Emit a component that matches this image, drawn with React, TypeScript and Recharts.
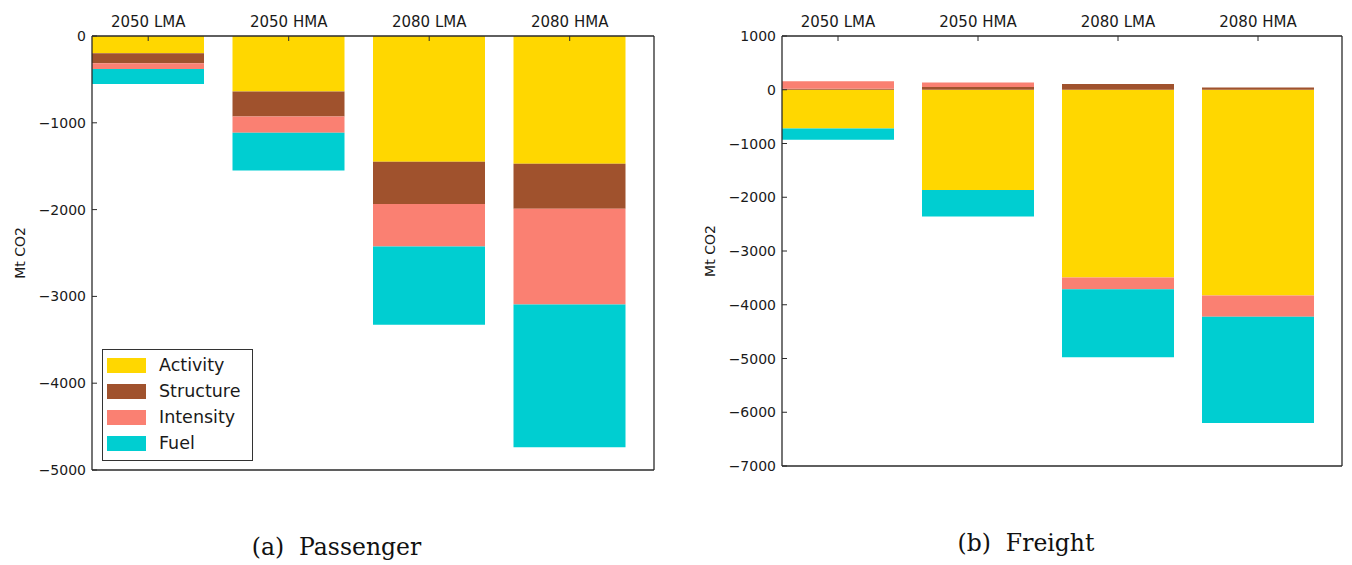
import { Bar, BarChart, Label, Legend, XAxis, YAxis } from 'recharts'

const categories = ['2050 LMA', '2050 HMA', '2080 LMA', '2080 HMA']

const seriesNames = ['Activity', 'Structure', 'Intensity', 'Fuel']
const seriesColors = ['#FFD700', '#A0522D', '#FA8072', '#00CED1']

// passenger decomposition, Mt CO2
const passengerActivity = [-200, -638, -1450, -1473]
const passengerStructure = [-115, -289, -485, -516]
const passengerIntensity = [-66, -188, -489, -1103]
const passengerFuel = [-173, -435, -904, -1647]

// freight decomposition, Mt CO2
const freightActivity = [-720, -1865, -3491, -3828]
const freightStructure = [20, 50, 106, 40]
const freightIntensity = [137, 87, -221, -393]
const freightFuel = [-212, -491, -1263, -1978]

const passengerTicks = [0, -1000, -2000, -3000, -4000, -5000]
const freightTicks = [1000, 0, -1000, -2000, -3000, -4000, -5000, -6000, -7000]

const FONT = 'DejaVu Sans'
const INK = '#1a1a1a'
const AXIS = '#2a2a2a'

function buildRows(series: number[][]) {
  return categories.map((name, i) => {
    const row: Record<string, string | number> = { name }
    seriesNames.forEach((s, k) => {
      row[s] = series[k][i]
    })
    return row
  })
}

const passengerRows = buildRows([passengerActivity, passengerStructure, passengerIntensity, passengerFuel])
const freightRows = buildRows([freightActivity, freightStructure, freightIntensity, freightFuel])

const fmt = (v: number) => (v < 0 ? '\u2212' + Math.abs(v) : String(v))

function LeftTick({ x, y, payload }: any) {
  return (
    <g>
      <line x1={x} x2={x + 5} y1={y} y2={y} stroke={AXIS} strokeWidth={1} />
      <text x={x - 6} y={y} dy={5} textAnchor="end" fontSize={14} fontFamily={FONT} fill={INK}>
        {fmt(payload.value)}
      </text>
    </g>
  )
}

function RightTick({ x, y }: any) {
  return <line x1={x} x2={x - 5} y1={y} y2={y} stroke={AXIS} strokeWidth={1} />
}

function TopTick({ x, y, payload }: any) {
  return (
    <g>
      <line x1={x} x2={x} y1={y} y2={y + 5} stroke={AXIS} strokeWidth={1} />
      <text x={x} y={y - 9} textAnchor="middle" fontSize={15} fontFamily={FONT} fill={INK}>
        {payload.value}
      </text>
    </g>
  )
}

function YTitle({ viewBox }: any) {
  const cx = viewBox.x - 12
  const cy = viewBox.y + viewBox.height / 2
  return (
    <text
      x={cx}
      y={cy}
      transform={`rotate(-90 ${cx} ${cy})`}
      textAnchor="middle"
      dominantBaseline="central"
      fontSize={14}
      fontFamily={FONT}
      fill={INK}
    >
      Mt CO2
    </text>
  )
}

function LegendBox({ payload }: any) {
  const items = [...(payload || [])].sort(
    (a: any, b: any) => seriesNames.indexOf(a.value) - seriesNames.indexOf(b.value),
  )
  return (
    <div
      style={{
        width: 151,
        height: 112,
        boxSizing: 'border-box',
        border: '1.6px solid #333',
        background: '#fff',
        paddingTop: 2,
        paddingLeft: 4,
      }}
    >
      {items.map((entry: any) => (
        <div key={entry.value} style={{ display: 'flex', alignItems: 'center', height: 26 }}>
          <span style={{ display: 'inline-block', width: 39, height: 15, background: entry.color, marginRight: 13 }} />
          <span style={{ fontFamily: FONT, fontSize: 17.5, color: INK, lineHeight: '17px' }}>{entry.value}</span>
        </div>
      ))}
    </div>
  )
}

type PanelProps = {
  rows: Record<string, string | number>[]
  left: number
  width: number
  height: number
  margin: { top: number; right: number; bottom: number; left: number }
  domain: [number, number]
  ticks: number[]
  showLegend?: boolean
}

function Panel({ rows, left, width, height, margin, domain, ticks, showLegend }: PanelProps) {
  const plotWidth = width - margin.left - margin.right - 61
  const shift = plotWidth * 0.025
  return (
    <BarChart
      width={width}
      height={height}
      data={rows}
      margin={margin}
      stackOffset="sign"
      barCategoryGap="10%"
      style={{ position: 'absolute', left, top: 0 }}
    >
      <XAxis
        xAxisId="top"
        dataKey="name"
        orientation="top"
        height={30}
        padding={{ left: -shift, right: shift }}
        axisLine={{ stroke: AXIS, strokeWidth: 1.3 }}
        tickLine={false}
        tickSize={0}
        tickMargin={0}
        tick={<TopTick />}
        interval={0}
      />
      <XAxis
        xAxisId="bottom"
        dataKey="name"
        orientation="bottom"
        height={1}
        axisLine={{ stroke: AXIS, strokeWidth: 1.3 }}
        tickLine={false}
        tick={false}
      />
      <YAxis
        yAxisId="left"
        type="number"
        domain={domain}
        ticks={ticks}
        width={60}
        axisLine={{ stroke: AXIS, strokeWidth: 1.3 }}
        tickLine={false}
        tickSize={0}
        tickMargin={0}
        tick={<LeftTick />}
        interval={0}
      >
        <Label content={<YTitle />} />
      </YAxis>
      <YAxis
        yAxisId="right"
        orientation="right"
        type="number"
        domain={domain}
        ticks={ticks}
        width={1}
        axisLine={{ stroke: AXIS, strokeWidth: 1.3 }}
        tickLine={false}
        tickSize={0}
        tickMargin={0}
        tick={<RightTick />}
        interval={0}
      />
      {seriesNames.map((s, k) => (
        <Bar
          key={s}
          dataKey={s}
          name={s}
          stackId="a"
          xAxisId="top"
          yAxisId="left"
          fill={seriesColors[k]}
          isAnimationActive={false}
        />
      ))}
      {showLegend && (
        <Legend
          layout="horizontal"
          verticalAlign="middle"
          align="center"
          content={<LegendBox />}
          wrapperStyle={{ position: 'absolute', left: 102, top: 349, width: 151, height: 112 }}
        />
      )}
    </BarChart>
  )
}

export default function App() {
  return (
    <div
      style={{
        position: 'absolute',
        left: 0,
        top: 0,
        width: 1352,
        height: 565,
        background: '#fff',
        overflow: 'hidden',
      }}
    >
      <Panel
        rows={passengerRows}
        left={0}
        width={680}
        height={500}
        margin={{ top: 6, right: 25, bottom: 29, left: 32 }}
        domain={[-5000, 0]}
        ticks={passengerTicks}
        showLegend
      />
      <Panel
        rows={freightRows}
        left={680}
        width={672}
        height={500}
        margin={{ top: 6, right: 9, bottom: 33, left: 42 }}
        domain={[-7000, 1000]}
        ticks={freightTicks}
      />
      <div
        style={{
          position: 'absolute',
          left: 0,
          width: 673,
          top: 536,
          textAlign: 'center',
          fontFamily: 'DejaVu Serif',
          fontSize: 23.5,
          lineHeight: '23.5px',
          whiteSpace: 'pre',
          color: '#111',
        }}
      >
        {'(a)  Passenger'}
      </div>
      <div
        style={{
          position: 'absolute',
          left: 680,
          width: 692,
          top: 532,
          textAlign: 'center',
          fontFamily: 'DejaVu Serif',
          fontSize: 23.5,
          lineHeight: '23.5px',
          whiteSpace: 'pre',
          color: '#111',
        }}
      >
        {'(b)  Freight'}
      </div>
    </div>
  )
}
